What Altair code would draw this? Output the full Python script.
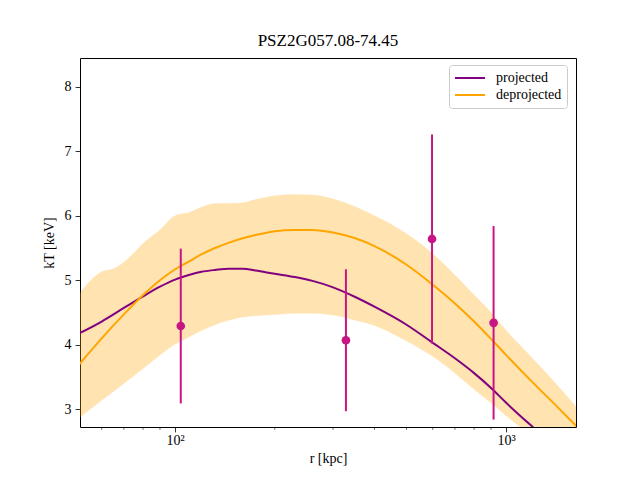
import altair as alt
import pandas as pd

TITLE = "PSZ2G057.08-74.45"
FONT = "Liberation Serif"

# Model temperature profiles [kpc] -> [keV]
model_r = [51, 60, 70, 80, 90, 100, 110, 120, 132, 145, 160, 175, 200, 230,
           260, 300, 350, 400, 500, 600, 700, 800, 900, 1000, 1200, 1400, 1650]
kt_projected = [4.17, 4.36, 4.57, 4.75, 4.90, 5.01, 5.08, 5.13, 5.16, 5.18, 5.18,
                5.15, 5.10, 5.05, 4.99, 4.89, 4.74, 4.59, 4.31, 4.03, 3.79, 3.56,
                3.33, 3.10, 2.73, 2.43, 2.10]
kt_deprojected = [3.68, 4.10, 4.47, 4.77, 5.00, 5.17, 5.29, 5.40, 5.50, 5.58, 5.65,
                  5.70, 5.76, 5.78, 5.78, 5.74, 5.65, 5.53, 5.24, 4.93, 4.64, 4.36,
                  4.09, 3.84, 3.42, 3.08, 2.71]

# Uncertainty envelope of the deprojected profile
band_r = [51, 57, 60, 66, 70, 75, 80, 90, 100, 110, 120, 132, 145, 160, 175, 200,
          230, 260, 300, 350, 400, 500, 600, 700, 800, 900, 1000, 1200, 1400, 1650]
band_lo = [2.86, 3.05, 3.14, 3.30, 3.40, 3.52, 3.63, 3.84, 4.01, 4.12, 4.22, 4.31,
           4.38, 4.43, 4.45, 4.47, 4.49, 4.49, 4.46, 4.38, 4.30, 4.06, 3.82, 3.56,
           3.31, 3.10, 2.90, 2.57, 2.28, 1.93]
band_hi = [4.77, 5.05, 5.13, 5.19, 5.28, 5.42, 5.57, 5.78, 6.00, 6.05, 6.13, 6.19,
           6.19, 6.20, 6.25, 6.31, 6.33, 6.32, 6.26, 6.14, 6.00, 5.72, 5.41, 5.08,
           4.77, 4.50, 4.22, 3.79, 3.42, 3.00]

# Spectral measurements in annuli
pt_r = [104, 328, 597, 916]
pt_kt = [4.29, 4.07, 5.64, 4.34]
pt_err = [1.20, 1.10, 1.62, 1.50]

# Axis ticks
x_major = [100, 1000]
x_minor = [60, 70, 80, 90, 200, 300, 400, 500, 600, 700, 800, 900]
y_ticks = [3, 4, 5, 6, 7, 8]

W, H = 496, 369

profiles = pd.DataFrame(
    {"r": model_r * 2,
     "kT": kt_projected + kt_deprojected,
     "series": ["projected"] * len(model_r) + ["deprojected"] * len(model_r)}
)
band = pd.DataFrame({"r": band_r, "lo": band_lo, "hi": band_hi})
points = pd.DataFrame({"r": pt_r, "kT": pt_kt})
points["lo"] = points["kT"] - pd.Series(pt_err)
points["hi"] = points["kT"] + pd.Series(pt_err)
minor = pd.DataFrame({"r": x_minor})

xscale = alt.Scale(type="log", domain=[51.6, 1625], nice=False)
yscale = alt.Scale(domain=[2.725, 8.445], nice=False, zero=False)

x_axis = alt.Axis(
    values=x_major,
    labelExpr="datum.value == 100 ? '10²' : '10³'",
    title="r [kpc]",
    grid=False, domain=False,
    tickSize=4.9, tickWidth=0.8, tickColor="black",
    labelPadding=2, titlePadding=4,
    labelFont=FONT, labelFontSize=14, labelColor="black",
    titleFont=FONT, titleFontSize=14, titleColor="black", titleFontWeight="normal",
)
y_axis = alt.Axis(
    values=y_ticks,
    title="kT [keV]",
    grid=False, domain=False,
    tickSize=4.9, tickWidth=0.8, tickColor="black",
    labelPadding=4, titlePadding=8,
    labelFont=FONT, labelFontSize=14, labelColor="black",
    titleFont=FONT, titleFontSize=14, titleColor="black", titleFontWeight="normal",
)


def xenc():
    return alt.X("r:Q", scale=xscale, axis=x_axis)


band_layer = alt.Chart(band).mark_area(
    color="#ffa500", opacity=0.3, stroke="#ffa500", strokeOpacity=0.35,
    strokeWidth=1, clip=True, interpolate="monotone"
).encode(
    x=xenc(),
    y=alt.Y("lo:Q", scale=yscale, axis=y_axis),
    y2="hi:Q",
)

minor_layer = alt.Chart(minor).mark_rule(
    color="black", strokeWidth=0.6, clip=False
).encode(
    x=xenc(),
    y=alt.value(H),
    y2=alt.value(H + 2.8),
)

lines = alt.Chart(profiles).mark_line(
    strokeWidth=2, clip=True, interpolate="monotone"
).encode(
    x=xenc(),
    y=alt.Y("kT:Q", scale=yscale, axis=y_axis),
    color=alt.Color(
        "series:N",
        scale=alt.Scale(domain=["projected", "deprojected"],
                        range=["purple", "orange"]),
        legend=alt.Legend(
            title=None, orient="none", legendX=369, legendY=7,
            symbolType="stroke", symbolSize=900, symbolStrokeWidth=2,
            labelFont=FONT, labelFontSize=14, labelColor="black",
            fillColor="rgba(255,255,255,0.8)", strokeColor="#cccccc",
            cornerRadius=3, padding=5, rowPadding=1, clipHeight=16,
            labelOffset=10,
        ),
    ),
    detail="series:N",
)

errbars = alt.Chart(points).mark_rule(color="#c71585", strokeWidth=2, clip=True).encode(
    x=xenc(),
    y=alt.Y("lo:Q", scale=yscale, axis=y_axis),
    y2="hi:Q",
)

dots = alt.Chart(points).mark_circle(color="#c71585", size=75, opacity=1).encode(
    x=xenc(),
    y=alt.Y("kT:Q", scale=yscale, axis=y_axis),
)

chart = alt.layer(band_layer, minor_layer, lines, errbars, dots).properties(
    width=W,
    height=H,
    autosize=alt.AutoSizeParams(type="none"),
    padding={"left": 80, "top": 58, "right": 64, "bottom": 53},
    background="white",
    title=alt.Title(TITLE, font=FONT, fontSize=17, fontWeight="normal",
                    color="black", offset=8, anchor="middle"),
).configure_view(stroke="black", strokeWidth=1)

chart.save("out.html", embed_options={"renderer": "svg", "actions": False})
